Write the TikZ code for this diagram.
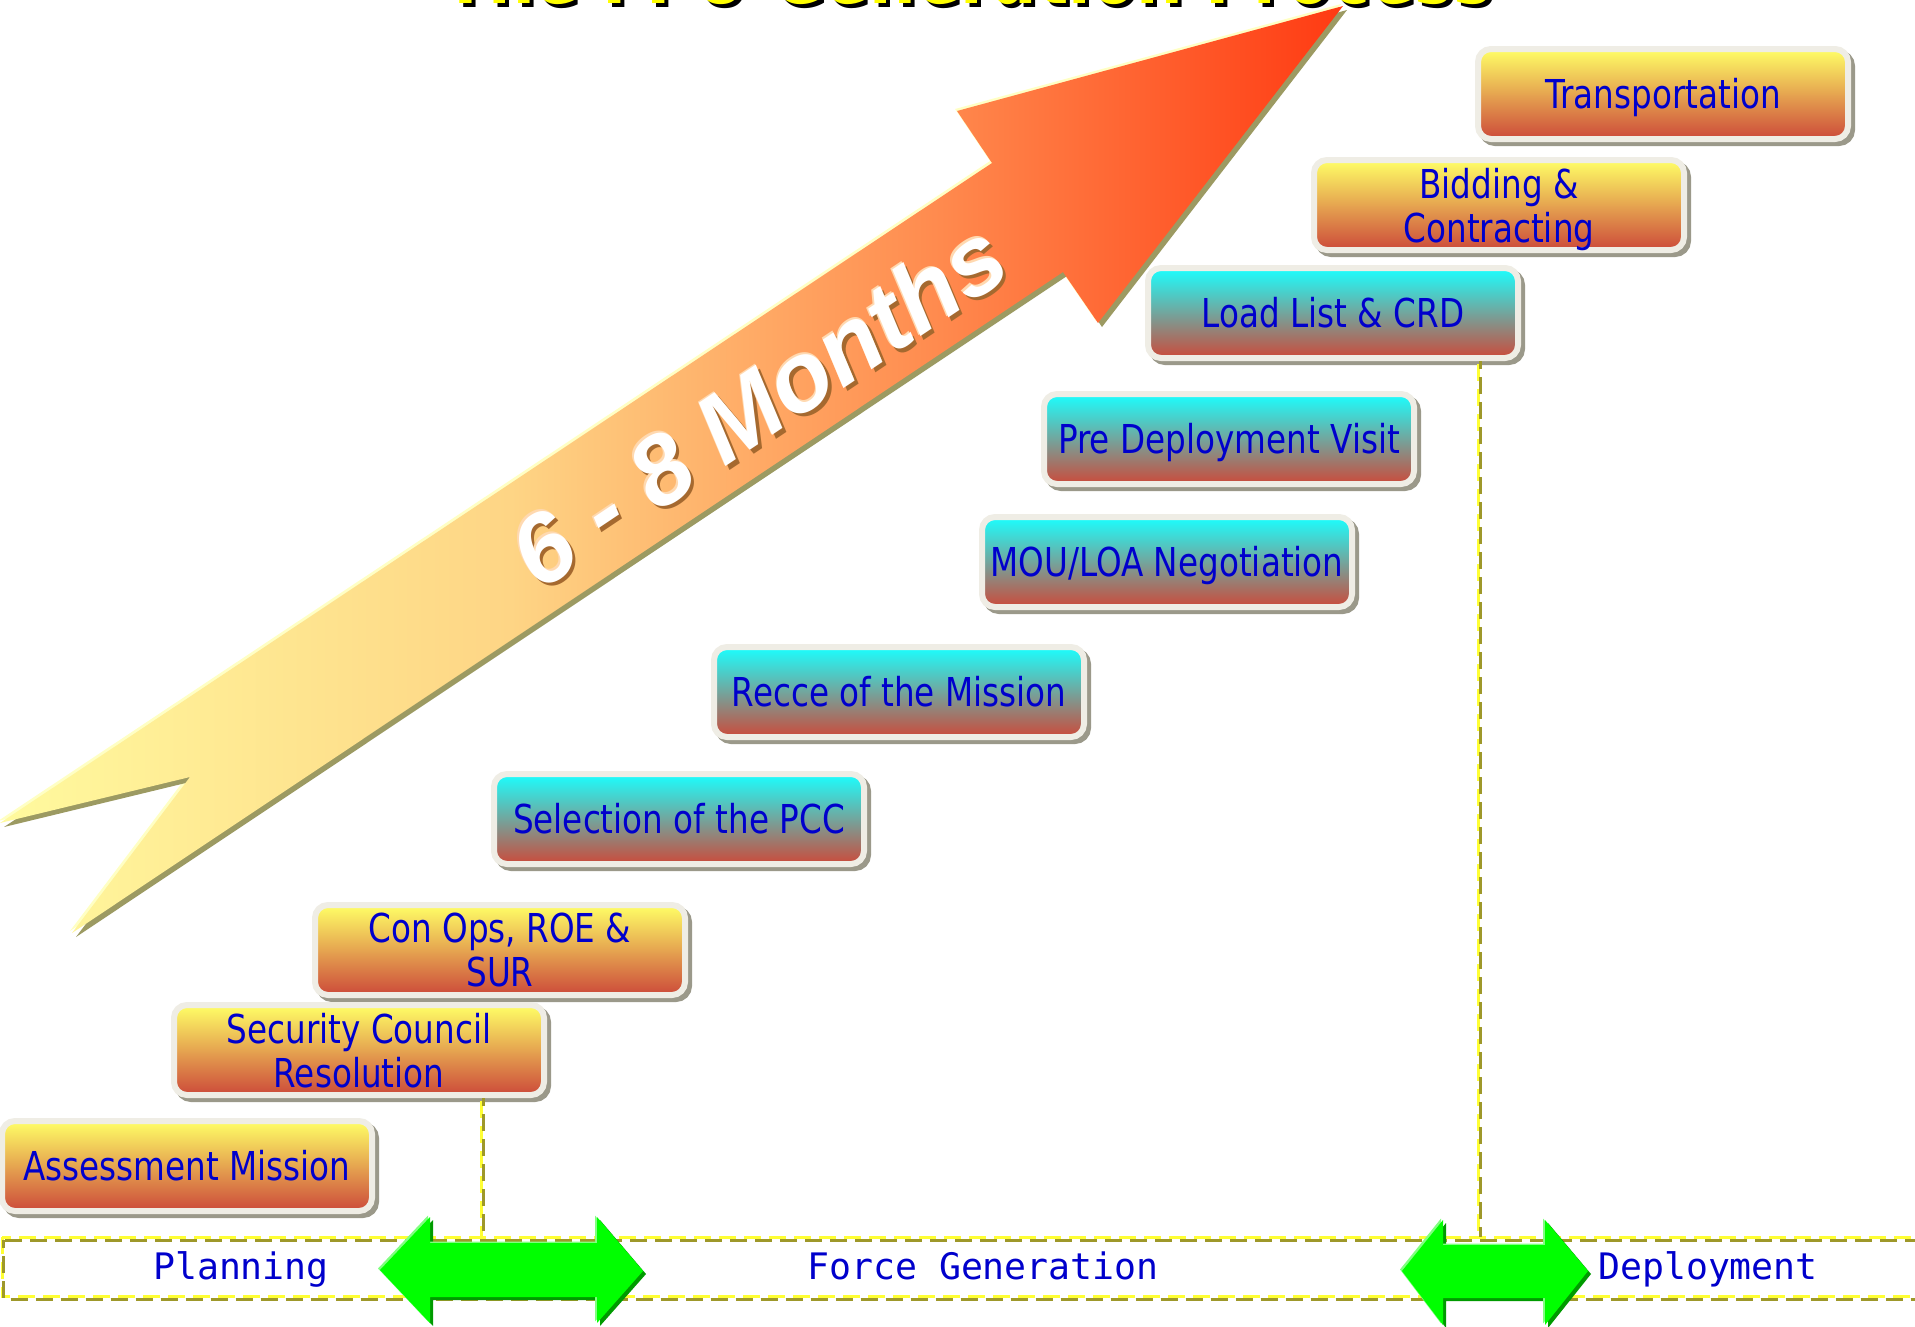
\documentclass[tikz,border=0pt]{standalone}
\usepackage{fontspec}
\usetikzlibrary{shadows}

\newfontfamily\stagefont{DejaVu Sans}[FakeStretch=0.82]
\newfontfamily\phasefont{DejaVu Sans Mono}
\newfontfamily\bandfont{Liberation Sans}
\newfontfamily\headfont{DejaVu Sans}[FakeStretch=0.82]

\definecolor{txtblue}{HTML}{0000CC}
\definecolor{bxyellow}{HTML}{FFFF66}
\definecolor{bxcyan}{HTML}{1AFFFF}
\definecolor{bxred}{HTML}{CC4A3A}
\definecolor{bxrim}{HTML}{EFEDE5}
\definecolor{bxshadow}{HTML}{9B998A}
\definecolor{dashY}{HTML}{FFFF33}
\definecolor{dashO}{HTML}{9E982A}
\definecolor{grn}{HTML}{00FF00}
\definecolor{grnDark}{HTML}{009A00}
\definecolor{grnLight}{HTML}{80FF80}
\definecolor{arrA}{HTML}{FFFA9E}
\definecolor{arrB}{HTML}{FED585}
\definecolor{arrC}{HTML}{FF8A4E}
\definecolor{arrD}{HTML}{FF3A12}
\definecolor{arrEdge}{HTML}{9C9A62}
\definecolor{arrGlow}{HTML}{FFFFC4}
\definecolor{bandShadow}{HTML}{A5692F}
\definecolor{bandRim}{HTML}{FFD9B0}
\definecolor{titleYellow}{HTML}{FFFF00}

% colour run of the big arrow, tail (left) to tip (right)
\pgfdeclarehorizontalshading{bigarrowfill}{100bp}{color(0bp)=(arrA); color(25bp)=(arrA); color(44bp)=(arrB); color(60bp)=(arrC); color(75bp)=(arrD); color(100bp)=(arrD)}

\begin{document}
\begin{tikzpicture}[x=1pt,y=-1pt,
  stage/.style={rounded corners=13pt, draw=bxrim, line width=6pt,
    minimum width=370pt, minimum height=90pt, inner sep=0pt, align=center,
    font=\stagefont\fontsize{39.8pt}{44pt}\selectfont, text=txtblue,
    bottom color=bxred, text depth=0pt,
    drop shadow={shadow xshift=4pt, shadow yshift=-4pt, opacity=1,
      fill=bxshadow, draw=bxshadow, line width=6pt}},
  ystage/.style={stage, top color=bxyellow, bottom color=bxred},
  cstage/.style={stage, top color=bxcyan, bottom color=bxred},
  oneline/.style={text height=29pt},
  ydash/.style={draw=dashY, line width=3pt, dash pattern=on 17pt off 8pt},
  odash/.style={draw=dashO, line width=3pt, dash pattern=on 17pt off 8pt, dash phase=9pt},
  phase/.style={font=\phasefont\fontsize{36.5pt}{40pt}\selectfont, text=txtblue, anchor=base, inner sep=0pt},
  band/.style={font=\bandfont\bfseries\itshape\fontsize{98pt}{98pt}\selectfont, rotate=33.8, anchor=base, inner sep=0pt},
  headline/.style={font=\headfont\bfseries\fontsize{80pt}{80pt}\selectfont, anchor=base, inner sep=0pt}
]
\useasboundingbox (0,0) rectangle (1915,1326);
\clip (0,0) rectangle (1915,1326);
\fill[white] (0,0) rectangle (1915,1326);

% ---- big timeline arrow: glow, shadow, body ----
\fill[arrGlow, shift={(-2,-2)}] (1343,6) -- (957,111) -- (992,163) -- (0,823) -- (190,777) -- (72,933) -- (1063,272) -- (1098,323) -- cycle;
\fill[arrEdge, shift={(4,4)}] (1343,6) -- (957,111) -- (992,163) -- (0,823) -- (190,777) -- (72,933) -- (1063,272) -- (1098,323) -- cycle;
\shade[shading=bigarrowfill] (1343,6) -- (957,111) -- (992,163) -- (0,823) -- (190,777) -- (72,933) -- (1063,272) -- (1098,323) -- cycle;

\node[band, text=bandShadow] (monthsShadow) at (780.5,436.5) {6 - 8 Months};
\node[band, text=bandRim] (monthsRim) at (775.5,431.5) {6 - 8 Months};
\node[band, text=white] (months) at (777,433) {6 - 8 Months};

% ---- phase bar ----
\coordinate (barNW) at (2,1237);
\coordinate (barSE) at (1935,1296);
\draw[ydash] (barNW) rectangle (barSE);
\draw[odash] ([shift={(1.5,3)}]barNW) rectangle ([shift={(1.5,3)}]barSE);

% ---- stage boxes ----
\node[ystage, oneline] (trans)  at (1663,94)  {Transportation};
\node[ystage]          (bid)    at (1499,205) {Bidding \&\\Contracting};
\node[cstage, oneline] (load)   at (1333,313) {Load List \& CRD};
\node[cstage, oneline] (pre)    at (1229,439) {Pre Deployment Visit};
\node[cstage, oneline] (mou)    at (1167,562) {MOU/LOA Negotiation};
\node[cstage, oneline] (recce)  at (899,692)  {Recce of the Mission};
\node[cstage, oneline] (sel)    at (679,819)  {Selection of the PCC};
\node[ystage]          (conops) at (500,950)  {Con Ops, ROE \&\\SUR};
\node[ystage]          (secu)   at (359,1050) {Security Council\\Resolution};
\node[ystage, oneline] (assess) at (187,1166) {Assessment Mission};

% ---- phase markers dropping from the boxes to the bar ----
\coordinate (markA) at (481,1237);
\coordinate (markB) at (1478,1237);
\draw[ydash] ([yshift=-3pt]secu.south -| markA) -- (markA);
\draw[odash] ([shift={(2,0)}]markA |- secu.south) -- ([shift={(2,0)}]markA);
\draw[ydash] ([yshift=-3pt]load.south -| markB) -- (markB);
\draw[odash] ([shift={(2,0)}]markB |- load.south) -- ([shift={(2,0)}]markB);

% ---- green double arrows between the phases ----
\fill[grnDark, shift={(3,3)}] (380,1270) -- (430,1217) -- (430,1243) -- (597,1243) -- (597,1217) -- (643,1271) -- (597,1323) -- (597,1297) -- (430,1297) -- (430,1323) -- cycle;
\fill[grnLight, shift={(-2,-1.5)}] (380,1270) -- (430,1217) -- (430,1243) -- (597,1243) -- (597,1217) -- (643,1271) -- (597,1323) -- (597,1297) -- (430,1297) -- (430,1323) -- cycle;
\fill[grn] (380,1270) -- (430,1217) -- (430,1243) -- (597,1243) -- (597,1217) -- (643,1271) -- (597,1323) -- (597,1297) -- (430,1297) -- (430,1323) -- cycle;

\fill[grnDark, shift={(3,3)}] (1402,1271) -- (1443,1220) -- (1443,1245) -- (1545,1245) -- (1545,1220) -- (1588,1271) -- (1545,1325) -- (1545,1298) -- (1443,1298) -- (1443,1325) -- cycle;
\fill[grnLight, shift={(-2,-1.5)}] (1402,1271) -- (1443,1220) -- (1443,1245) -- (1545,1245) -- (1545,1220) -- (1588,1271) -- (1545,1325) -- (1545,1298) -- (1443,1298) -- (1443,1325) -- cycle;
\fill[grn] (1402,1271) -- (1443,1220) -- (1443,1245) -- (1545,1245) -- (1545,1220) -- (1588,1271) -- (1545,1325) -- (1545,1298) -- (1443,1298) -- (1443,1325) -- cycle;

% ---- phase names ----
\node[phase] (planning)   at (241,1279)  {Planning};
\node[phase] (forcegen)   at (983,1279)  {Force Generation};
\node[phase] (deployment) at (1708,1279) {Deployment};

% ---- heading ----
\node[headline, text=black] (titleShadow) at (972,7) {The FPU Generation Process};
\node[headline, text=titleYellow] (title) at (968,3) {The FPU Generation Process};
\end{tikzpicture}
\end{document}
